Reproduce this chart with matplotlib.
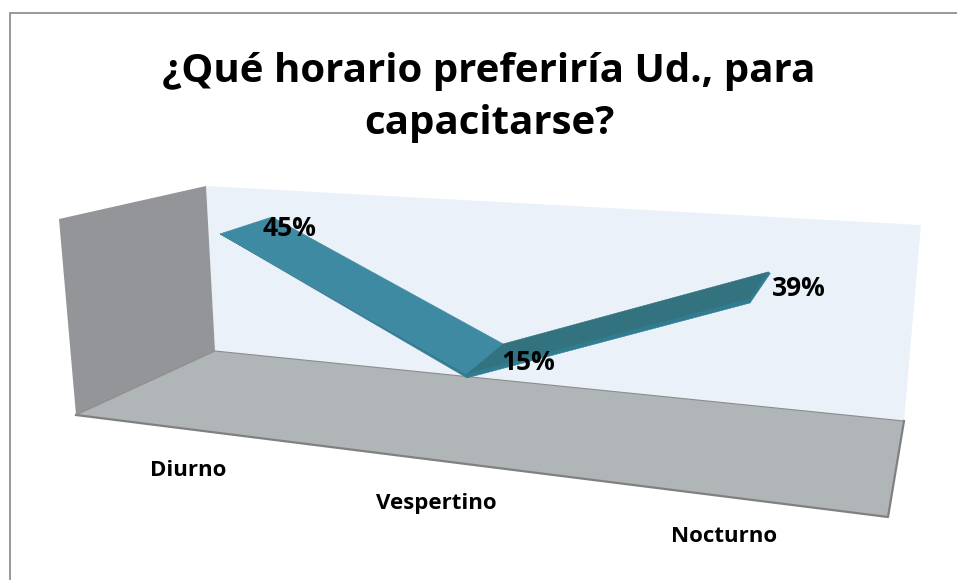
import numpy as np
import matplotlib
matplotlib.use("Agg")
import matplotlib.pyplot as plt
from matplotlib.patches import Polygon

title = "¿Qué horario preferiría Ud., para\ncapacitarse?"
categories = ["Diurno", "Vespertino", "Nocturno"]
values = [45, 15, 39]

W, H = 957, 580
BACK_WALL = [(206, 186), (921, 225), (904, 421), (215, 351)]
SIDE_WALL = [(59, 219), (206, 186), (215, 351), (76, 415)]
FLOOR = [(215, 351), (904, 421), (888, 517), (76, 415)]
# projection of (category index, value) on the ribbon's rear and front edges
REAR = dict(x=(243.7, 250.0, 0.63), y=(382.8, 16.4, -3.685))
FRONT = dict(x=(190.0, 267.0, 0.667), y=(413.0, 20.6, -3.98))
CAT_LABEL_XY = [(188, 470), (436, 503), (724, 537)]
VAL_LABEL_XY = [(289, 229), (528, 362), (799, 288)]


def project(edge, i, v):
    ax_, bx, cx = edge["x"]
    ay, by, cy = edge["y"]
    return np.array([ax_ + bx * i + cx * v, ay + by * i + cy * v])


plt.rcParams["font.family"] = ["Open Sans", "DejaVu Sans"]
fig = plt.figure(figsize=(W / 100, H / 100), dpi=100, facecolor="white")
ax = fig.add_axes([0, 0, 1, 1])
ax.set_xlim(0, W)
ax.set_ylim(H, 0)
ax.axis("off")

# chart border
ax.plot([9.5, 9.5, W], [H, 12.5, 12.5], color="#868686", lw=1.2, solid_joinstyle="miter")

# walls
ax.add_patch(Polygon(BACK_WALL, closed=True, fc="#EAF1F8", ec="none", zorder=1))
ax.add_patch(Polygon(SIDE_WALL, closed=True, fc="#939598", ec="none", zorder=1))
ax.add_patch(Polygon(FLOOR, closed=True, fc="#B0B5B8", ec="none", zorder=2))
fx, fy = zip(*FLOOR)
ax.plot([fx[3], fx[2], fx[1]], [fy[3], fy[2], fy[1]], color="#808080", lw=1.6, zorder=2)
ax.plot([fx[3], fx[0], fx[1]], [fy[3], fy[0], fy[1]], color="#8C8C8C", lw=0.8, zorder=2)

# ribbon
rear = [project(REAR, i, v) for i, v in enumerate(values)]
front = [project(FRONT, i, v) for i, v in enumerate(values)]
thick = np.array([0, 4.0])
tip = front[0] + np.array([7, 4.0])
ax.add_patch(Polygon([front[0], front[1], front[1] + thick, tip], closed=True,
                     fc="#367C92", ec="#367C92", lw=0.4, zorder=3))
ax.add_patch(Polygon([front[1], front[2], front[2] + thick, front[1] + thick], closed=True,
                     fc="#2F7D92", ec="#2F7D92", lw=0.4, zorder=3))
ax.add_patch(Polygon([rear[2], rear[2] + np.array([2, 1.5]), front[2] + thick, front[2]], closed=True,
                     fc="#2F7D92", ec="#2F7D92", lw=0.4, zorder=3))
for k, face in enumerate(["#3F8AA3", "#33727F"]):
    ax.add_patch(Polygon([rear[k], rear[k + 1], front[k + 1], front[k]],
                         closed=True, fc=face, ec=face, lw=0.4, zorder=4))

# text
ax.text(489, 97.5, title, ha="center", va="center", fontsize=29, fontweight="bold",
        color="black", linespacing=1.44, zorder=6)
for (x, y), c in zip(CAT_LABEL_XY, categories):
    ax.text(x, y, c, ha="center", va="center", fontsize=16, fontweight="bold", color="black", zorder=6)
for (x, y), v in zip(VAL_LABEL_XY, values):
    ax.text(x, y, f"{v}%", ha="center", va="center", fontsize=19, fontweight="bold", color="black", zorder=6)

fig.savefig("out.png", dpi=100)
